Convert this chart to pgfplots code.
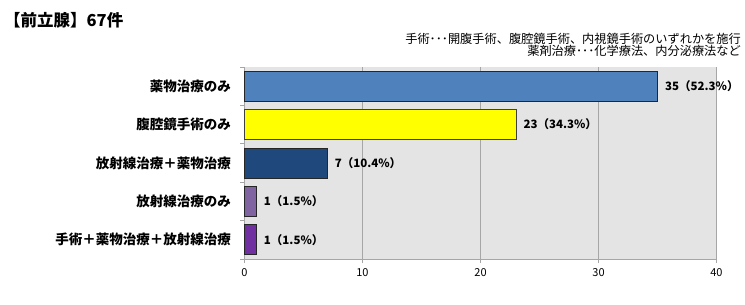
\documentclass[border=0pt]{standalone}
\usepackage{fontspec}
\setmainfont{Noto Sans CJK JP}
\usepackage{pgfplots}
\pgfplotsset{compat=1.18}
\definecolor{cA}{HTML}{4F81BD}
\definecolor{cB}{HTML}{FFFF00}
\definecolor{cC}{HTML}{1F497D}
\definecolor{cD}{HTML}{8064A2}
\definecolor{cE}{HTML}{7030A0}
\definecolor{bg}{HTML}{E4E4E4}
\definecolor{gridc}{HTML}{A6A6A6}
\begin{document}
\begin{tikzpicture}
\useasboundingbox (0pt,-305pt) rectangle (745pt,0pt);
\node[anchor=west,inner sep=0pt,font=\bfseries\fontsize{16.5}{17}\selectfont] at (4pt,-20pt) {【前立腺】67件};
\node[anchor=north east,align=right,inner sep=0pt,font=\fontsize{12.2}{11.3}\selectfont] at (741pt,-33pt) {手術･･･開腹手術、腹腔鏡手術、内視鏡手術のいずれかを施行\\薬剤治療･･･化学療法、内分泌療法など};
\begin{axis}[
  at={(244.5pt,-259pt)}, anchor=south west,
  scale only axis, width=472pt, height=192pt,
  xmin=0, xmax=40, ymin=-0.5, ymax=4.5, y dir=reverse,
  xbar, bar width=30pt, bar shift=0pt,
  axis background/.style={fill=bg},
  axis x line*=bottom, axis y line*=left,
  axis line style={draw=gridc, line width=0.8pt},
  xtick={0,10,20,30,40},
  xmajorgrids, major grid style={draw=gridc, line width=0.8pt},
  ytick={0,1,2,3,4},
  yticklabels={薬物治療のみ,腹腔鏡手術のみ,放射線治療＋薬物治療,放射線治療のみ,手術＋薬物治療＋放射線治療},
  minor ytick={-0.5,0.5,1.5,2.5,3.5,4.5},
  every major y tick/.style={draw=none},
  every minor y tick/.style={draw=gridc, line width=0.8pt},
  every major x tick/.style={draw=gridc, line width=0.8pt},
  tick align=outside, major tick length=4pt, minor tick length=4pt,
  yticklabel style={font=\bfseries\fontsize{13.5}{13.5}\selectfont, anchor=east, xshift=-6pt},
  xticklabel style={font=\fontsize{11}{11}\selectfont, yshift=-2pt},
  /pgf/number format/assume math mode=true,
  point meta=explicit symbolic,
  nodes near coords,
  every node near coord/.style={anchor=west, xshift=4pt, font=\bfseries\fontsize{11.5}{11.5}\selectfont, text=black},
  clip=false,
]
\addplot[fill=cA, draw=black!85, line width=0.7pt] coordinates {(35,0) [35（52.3\%）]};
\addplot[fill=cB, draw=black!75, line width=0.7pt] coordinates {(23,1) [23（34.3\%）]};
\addplot[fill=cC, draw=black!85, line width=0.7pt] coordinates {(7,2) [7（10.4\%）]};
\addplot[fill=cD, draw=black!85, line width=0.7pt] coordinates {(1,3) [1（1.5\%）]};
\addplot[fill=cE, draw=black!85, line width=0.7pt] coordinates {(1,4) [1（1.5\%）]};
\end{axis}
\end{tikzpicture}
\end{document}
